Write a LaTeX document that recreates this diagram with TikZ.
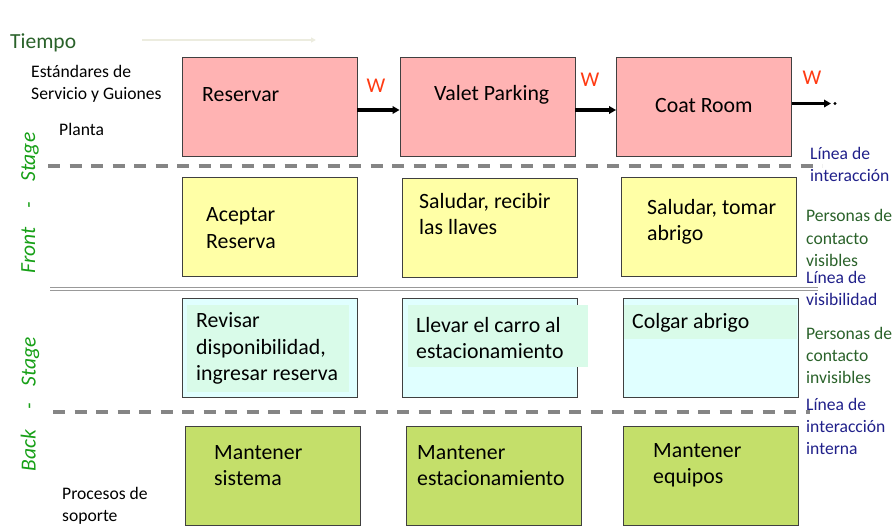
\documentclass[tikz,border=0pt]{standalone}
\usepackage{fontspec}
\setmainfont{Carlito}
\usetikzlibrary{arrows.meta}
\definecolor{pinkf}{HTML}{FFB3B3}
\definecolor{yelf}{HTML}{FFFFA6}
\definecolor{cyanf}{HTML}{E0FFFF}
\definecolor{hiltf}{HTML}{D9FBE9}
\definecolor{greenf}{HTML}{C4DF6A}
\definecolor{edgec}{HTML}{404040}
\definecolor{dashc}{HTML}{858585}
\definecolor{wred}{HTML}{FF3A12}
\definecolor{navyc}{HTML}{20208A}
\definecolor{dgreen}{HTML}{2A622A}
\definecolor{stagegreen}{HTML}{17A017}
\definecolor{timec}{HTML}{ECECDF}
\tikzset{
  box/.style={draw=edgec, line width=0.9pt, minimum width=175pt, minimum height=99pt, inner sep=0pt},
  pinkbox/.style={box, fill=pinkf},
  yelbox/.style={box, fill=yelf},
  cyanbox/.style={box, fill=cyanf},
  greenbox/.style={box, fill=greenf},
  hilt/.style={fill=hiltf, draw=none},
  btext/.style={anchor=west, align=left, inner sep=0pt, font=\fontsize{21.8}{26.3}\selectfont},
  stext/.style={anchor=west, align=left, inner sep=0pt, font=\fontsize{17.6}{22.2}\selectfont},
  navytext/.style={stext, text=navyc},
  greentext/.style={stext, text=dgreen},
  wlab/.style={inner sep=0pt, text=wred, font=\fontsize{21}{22}\selectfont},
  flow/.style={line width=3.1pt, -{Triangle[length=7pt,width=7.5pt]}},
  dashline/.style={draw=dashc, line width=3.2pt, dash pattern=on 12pt off 9.5pt},
  stagelab/.style={rotate=90, inner sep=0pt, text=stagegreen, font=\fontsize{21.5}{22}\selectfont\itshape}
}
\begin{document}
\begin{tikzpicture}[x=1pt,y=-1pt]
\useasboundingbox (0,0) rectangle (895,528);
% time
\node[anchor=west, inner sep=0pt, text=dgreen, font=\fontsize{21.5}{22}\selectfont] (tiempo) at (10,43) {Tiempo};
\coordinate (t0) at (142,40);
\coordinate (t1) at (316,40);
\draw[draw=timec, line width=2pt, -{Triangle[length=5pt,width=5pt]}] (t0) -- (t1);
\node[stext] (estd) at (31,83.5) {Estándares de\\Servicio y Guiones};
\node[stext] (planta) at (59,129) {Planta};
\node[stext] (proc) at (62,506) {Procesos de\\soporte};
% lines
\coordinate (d1a) at (48,166); \coordinate (d1b) at (822,166);
\draw[dashline] (d1a) -- (d1b);
\coordinate (v1a) at (50,289); \coordinate (v1b) at (818,289);
\draw[draw=gray!80, line width=1.3pt, double=white, double distance=2.2pt] (v1a) -- (v1b);
\coordinate (d2a) at (53,412); \coordinate (d2b) at (810,412);
\draw[dashline] (d2a) -- (d2b);
% pink row
\node[pinkbox] (r1) at (269.5,106.5) {};
\node[pinkbox] (r2) at (487.5,106.5) {};
\node[pinkbox] (r3) at (704,106.5) {};
\node[btext] (t1a) at (202,95) {Reservar};
\node[btext] (t2a) at (434,95) {Valet Parking};
\node[btext] (t3a) at (655,106) {Coat Room};
\coordinate (endp) at (831,103.5);
\coordinate (dotp) at (835,103.5);
\draw[flow] ([yshift=-3.5pt]r1.east) -- ([yshift=-3.5pt]r2.west);
\draw[flow] ([yshift=-3.5pt]r2.east) -- ([yshift=-3.5pt]r3.west);
\draw[flow] ([yshift=3pt]r3.east) -- (endp);
\fill (dotp) circle (1.7pt);
\node[wlab] (w1) at (376,86) {W};
\node[wlab] (w2) at (590,80) {W};
\node[wlab] (w3) at (812,78) {W};
% yellow row
\node[yelbox] (y1) at (269.5,226.5) {};
\node[yelbox] (y2) at (489.5,228) {};
\node[yelbox] (y3) at (708.5,226.5) {};
\node[btext] (ty1) at (206,228) {Aceptar\\Reserva};
\node[btext] (ty2) at (419,214) {Saludar, recibir\\las llaves};
\node[btext] (ty3) at (647,222) {Saludar, tomar\\abrigo};
% cyan row
\node[cyanbox] (c1) at (269.5,348) {};
\node[cyanbox] (c2) at (489.5,348) {};
\node[cyanbox] (c3) at (710.5,348) {};
\fill[hilt] (187,305) rectangle (349,392);
\fill[hilt] (408,305) rectangle (588,367);
\fill[hilt] (624,305) rectangle (797,339);
\node[btext] (tc1) at (196,348.5) {Revisar\\disponibilidad,\\ingresar reserva};
\node[btext] (tc2) at (416,338) {Llevar el carro al\\estacionamiento};
\node[btext] (tc3) at (632,323) {Colgar abrigo};
% green row
\node[greenbox] (g1) at (272.5,475.5) {};
\node[greenbox] (g2) at (493.5,475.5) {};
\node[greenbox] (g3) at (710.5,475.5) {};
\node[btext] (tg1) at (214,465.5) {Mantener\\sistema};
\node[btext] (tg2) at (417,465.5) {Mantener\\estacionamiento};
\node[btext] (tg3) at (653,465.5) {Mantener\\equipos};
% stage labels
\node[stagelab] (front) at (30,203) {Front\hspace{19pt}-\hspace{20pt}Stage};
\node[stagelab] (back) at (30,404) {Back\hspace{20pt}-\hspace{17pt}Stage};
% right labels
\node[navytext] (li1) at (810,164.5) {Línea de\\interacción};
\node[greentext] (pv) at (806,238) {Personas de\\contacto\\visibles};
\node[navytext] (li2) at (806,288.5) {Línea de\\visibilidad};
\node[greentext] (pi) at (806,355.5) {Personas de\\contacto\\invisibles};
\node[navytext] (li3) at (806,426.5) {Línea de\\interacción\\interna};
\end{tikzpicture}
\end{document}
